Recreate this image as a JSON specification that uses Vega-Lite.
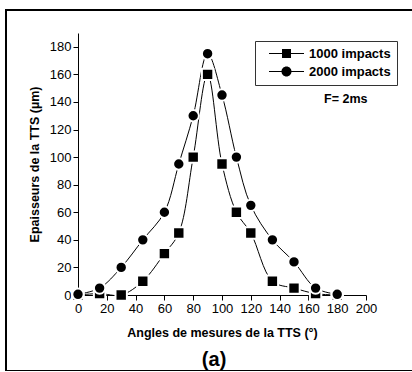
{
  "$schema": "https://vega.github.io/schema/vega-lite/v6.json",
  "width": 408,
  "height": 361,
  "autosize": {"type": "none"},
  "padding": {"left": 6, "top": 10, "right": 0, "bottom": 0},
  "background": "white",
  "config": {
    "view": {"stroke": "black", "strokeWidth": 2},
    "font": "Liberation Sans",
    "axis": {
      "grid": false,
      "domainColor": "black",
      "tickColor": "black",
      "labelColor": "black",
      "titleColor": "black",
      "labelFont": "Liberation Sans",
      "labelFontSize": 13,
      "titleFont": "Liberation Sans",
      "titleFontSize": 12.5,
      "titleFontWeight": "bold"
    }
  },
  "datasets": {
    "pts": [
      {"angle": 0, "val": 0, "series": "1000 impacts"},
      {"angle": 15, "val": 1, "series": "1000 impacts"},
      {"angle": 30, "val": 0, "series": "1000 impacts"},
      {"angle": 45, "val": 10, "series": "1000 impacts"},
      {"angle": 60, "val": 30, "series": "1000 impacts"},
      {"angle": 70, "val": 45, "series": "1000 impacts"},
      {"angle": 80, "val": 100, "series": "1000 impacts"},
      {"angle": 90, "val": 160, "series": "1000 impacts"},
      {"angle": 100, "val": 95, "series": "1000 impacts"},
      {"angle": 110, "val": 60, "series": "1000 impacts"},
      {"angle": 120, "val": 45, "series": "1000 impacts"},
      {"angle": 135, "val": 10, "series": "1000 impacts"},
      {"angle": 150, "val": 5, "series": "1000 impacts"},
      {"angle": 165, "val": 1, "series": "1000 impacts"},
      {"angle": 180, "val": 0, "series": "1000 impacts"},
      {"angle": 0, "val": 0.5, "series": "2000 impacts"},
      {"angle": 15, "val": 5, "series": "2000 impacts"},
      {"angle": 30, "val": 20, "series": "2000 impacts"},
      {"angle": 45, "val": 40, "series": "2000 impacts"},
      {"angle": 60, "val": 60, "series": "2000 impacts"},
      {"angle": 70, "val": 95, "series": "2000 impacts"},
      {"angle": 80, "val": 130, "series": "2000 impacts"},
      {"angle": 90, "val": 175, "series": "2000 impacts"},
      {"angle": 100, "val": 145, "series": "2000 impacts"},
      {"angle": 110, "val": 100, "series": "2000 impacts"},
      {"angle": 120, "val": 65, "series": "2000 impacts"},
      {"angle": 135, "val": 40, "series": "2000 impacts"},
      {"angle": 150, "val": 24, "series": "2000 impacts"},
      {"angle": 165, "val": 5, "series": "2000 impacts"},
      {"angle": 180, "val": 0.5, "series": "2000 impacts"}
    ],
    "notes": [
      {"angle": 186, "val": 142, "txt": "F= 2ms", "kind": "note"},
      {"angle": 94.5, "val": -47, "txt": "(a)", "kind": "label"}
    ]
  },
  "resolve": {"scale": {"shape": "independent"}, "legend": {"shape": "independent"}},
  "layer": [
    {
      "data": {"name": "pts"},
      "mark": {"type": "line", "interpolate": "catmull-rom", "color": "black", "strokeWidth": 1},
      "encoding": {
        "x": {
          "field": "angle", "type": "quantitative",
          "scale": {"domain": [0, 200], "range": [72, 360], "nice": false},
          "axis": {
            "title": "Angles de mesures de la TTS (°)",
            "offset": -76,
            "values": [0,10,20,30,40,50,60,70,80,90,100,110,120,130,140,150,160,170,180,190,200],
            "labelExpr": "datum.value % 20 === 0 ? datum.label : ''",
            "tickSize": {"condition": {"test": "datum.value % 20 === 0", "value": 5}, "value": 3},
            "labelPadding": 2,
            "titlePadding": 11,
            "labelFlush": false
          }
        },
        "y": {
          "field": "val", "type": "quantitative",
          "scale": {"domain": [0, 190], "range": [285, 23], "nice": false},
          "axis": {
            "title": "Epaisseurs de la TTS (µm)",
            "offset": -72,
            "values": [0,10,20,30,40,50,60,70,80,90,100,110,120,130,140,150,160,170,180,190],
            "labelExpr": "datum.value % 20 === 0 ? datum.label : ''",
            "tickSize": {"condition": {"test": "datum.value % 20 === 0", "value": 5}, "value": 3},
            "labelPadding": 2,
            "titlePadding": 8,
            "labelFlush": false
          }
        },
        "detail": {"field": "series"}
      }
    },
    {
      "data": {"name": "pts"},
      "mark": {"type": "point", "filled": true, "fill": "black", "stroke": "white", "strokeWidth": 2, "size": 130, "opacity": 1},
      "encoding": {
        "x": {"field": "angle", "type": "quantitative"},
        "y": {"field": "val", "type": "quantitative"},
        "shape": {
          "field": "series", "type": "nominal",
          "scale": {"domain": ["1000 impacts", "2000 impacts"], "range": ["square", "circle"]},
          "legend": null
        }
      }
    },
    {
      "data": {"name": "pts"},
      "transform": [{"filter": "false"}],
      "mark": {"type": "point", "filled": true, "color": "black", "size": 100, "opacity": 1},
      "encoding": {
        "x": {"field": "angle", "type": "quantitative"},
        "y": {"field": "val", "type": "quantitative"},
        "shape": {
          "field": "series", "type": "nominal",
          "scale": {
            "domain": ["1000 impacts", "2000 impacts"],
            "range": [
              "M-3.5,-0.1H3.5V0.1H-3.5ZM-0.9,-0.9H0.9V0.9H-0.9Z",
              "M-3.5,-0.1H3.5V0.1H-3.5ZM-1,0A1,1 0 1,1 1,0A1,1 0 1,1 -1,0Z"
            ]
          },
          "legend": {
            "title": null,
            "orient": "none",
            "legendX": 249,
            "legendY": 31,
            "strokeColor": "#333",
            "padding": 6,
            "symbolSize": 100,
            "symbolOffset": 19,
            "symbolFillColor": "black",
            "symbolStrokeWidth": 0,
            "labelOffset": 16,
            "labelFont": "Liberation Sans",
            "labelFontSize": 13,
            "labelFontWeight": "bold",
            "labelColor": "black",
            "rowPadding": 4
          }
        }
      }
    },
    {
      "data": {"name": "notes"},
      "transform": [{"filter": "datum.kind === 'note'"}],
      "mark": {"type": "text", "font": "Liberation Sans", "fontSize": 12.5, "fontWeight": "bold", "color": "black", "align": "center", "baseline": "middle"},
      "encoding": {
        "x": {"field": "angle", "type": "quantitative"},
        "y": {"field": "val", "type": "quantitative"},
        "text": {"field": "txt"}
      }
    },
    {
      "data": {"name": "notes"},
      "transform": [{"filter": "datum.kind === 'label'"}],
      "mark": {"type": "text", "font": "Liberation Sans", "fontSize": 20, "fontWeight": "bold", "color": "black", "align": "center", "baseline": "middle"},
      "encoding": {
        "x": {"field": "angle", "type": "quantitative"},
        "y": {"field": "val", "type": "quantitative"},
        "text": {"field": "txt"}
      }
    }
  ]
}
